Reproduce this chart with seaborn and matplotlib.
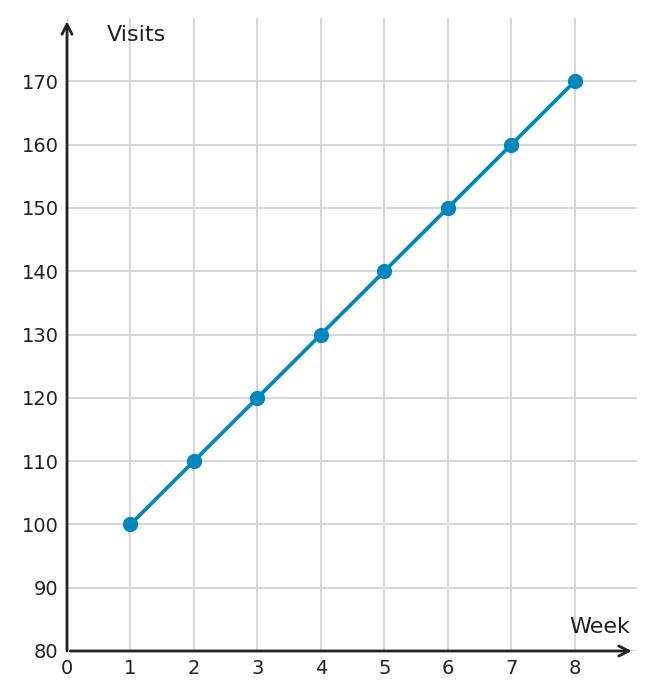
import pandas as pd
import seaborn as sns
import matplotlib.pyplot as plt

weeks = [1, 2, 3, 4, 5, 6, 7, 8]
visits = [100, 110, 120, 130, 140, 150, 160, 170]
x_ticks = [0, 1, 2, 3, 4, 5, 6, 7, 8]
y_ticks = [80, 90, 100, 110, 120, 130, 140, 150, 160, 170]

df = pd.DataFrame({"Week": weeks, "Visits": visits})

sns.set_style("white")
plt.rcParams['font.family'] = ['DejaVu Sans']

fig = plt.figure(figsize=(6.56, 7), dpi=100)
ax = fig.add_axes([67/656, 49/700, 570/656, 633/700])

sns.lineplot(data=df, x="Week", y="Visits", ax=ax, color="#0087be",
             linewidth=2.7, marker="o", markersize=11, markeredgewidth=0, zorder=5)

ax.set_xlim(0, 8.98)
ax.set_ylim(80, 180)
ax.set_xticks(x_ticks)
ax.set_yticks(y_ticks)
ax.grid(True, color="#d6d6d6", linewidth=1.4)
ax.set_axisbelow(True)
for s in ax.spines.values():
    s.set_visible(False)

ax.tick_params(axis="both", direction="in", length=4, width=1.8, color="#222222",
               labelsize=14, labelcolor="#222222", pad=6)
ax.set_xlabel("")
ax.set_ylabel("")

# axes with arrow heads
ax.annotate("", xy=(8.9, 80), xytext=(0.05, 80), xycoords="data",
            arrowprops=dict(arrowstyle="->", color="#222222", lw=2, mutation_scale=18,
                            shrinkA=0, shrinkB=0), annotation_clip=False)
ax.annotate("", xy=(0, 179.5), xytext=(0, 80), xycoords="data",
            arrowprops=dict(arrowstyle="->", color="#222222", lw=2, mutation_scale=18,
                            shrinkA=0, shrinkB=0), annotation_clip=False)

ax.text(8.39, 82.2, "Week", fontsize=16, color="#222222", ha="center", va="bottom")
ax.text(1.1, 177.3, "Visits", fontsize=16, color="#222222", ha="center", va="center")

plt.savefig("out.png", dpi=100)
